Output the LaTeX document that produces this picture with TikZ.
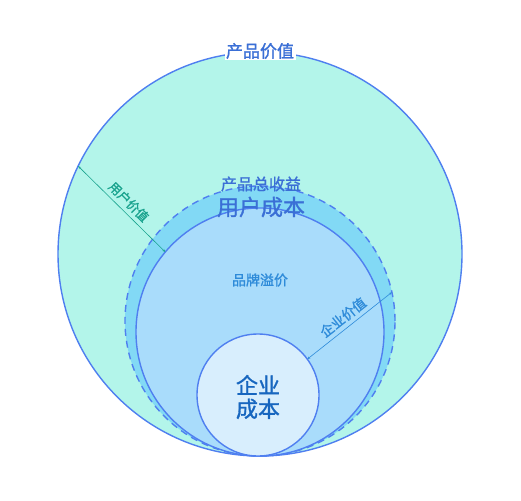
\documentclass[tikz,border=0pt]{standalone}
\usepackage{fontspec}
\setmainfont{Noto Sans CJK SC}[AutoFakeBold=1.3]
\usetikzlibrary{arrows.meta,calc}
\definecolor{mint}{HTML}{B3F5EA}
\definecolor{band}{HTML}{82D9F5}
\definecolor{sky}{HTML}{A9DCFB}
\definecolor{core}{HTML}{D8EEFD}
\definecolor{rim}{HTML}{4F7FF0}
\definecolor{tblue}{HTML}{3A6FD6}
\definecolor{tteal}{HTML}{19A38E}
\definecolor{vblue}{HTML}{2E8BD9}
\definecolor{dblue}{HTML}{1766BF}
\tikzset{ring/.style={draw=rim,line width=1.4pt},
lbl/.style={inner sep=1pt,font=\fontsize{#1}{#1}\selectfont\bfseries}}
\begin{document}
\begin{tikzpicture}[x=1pt,y=-1pt,>={Stealth[length=3pt,width=2.4pt]}]
\useasboundingbox(0,0)rectangle(521,500);
\coordinate(pv)at(260,254);\coordinate(gain)at(260,321);
\coordinate(uc)at(260,332);\coordinate(ec)at(258,395);
% circles
\fill[mint,ring](pv)circle[radius=202pt];
\fill[band](gain)circle[radius=135pt];
\draw[rim,line width=1.4pt,dash pattern=on 7pt off 5pt](gain)circle[radius=135pt];
\fill[sky,ring](uc)circle[radius=124pt];
\fill[core,ring](ec)circle[radius=61pt];
% labels
\node[lbl=17,fill=white,text=tblue,inner sep=1.5pt](pvtext)at(260,51){产品价值};
\node[lbl=16,text=tblue](gaintext)at(261,184){产品总收益};
\node[lbl=22,text=tblue](uctext)at(261,207){用户成本};
\node[lbl=14,text=vblue](brand)at(260,280){品牌溢价};
\node[lbl=22,text=dblue,align=center,font=\fontsize{22}{23.5}\selectfont\bfseries](ectext)at(258,397){企业\\成本};
% dimension lines
\coordinate(uvA)at($(pv)+(154.2:202pt)$);\coordinate(uvB)at($(uc)+(139.8:124pt)$);
\draw[<->,tteal,line width=0.6pt](uvA)--(uvB)node[midway,sloped,above,lbl=12.5,text=tteal,yshift=3pt](uvtext){用户价值};
\coordinate(evA)at($(ec)+(36:61pt)$);\coordinate(evB)at($(gain)+(12.3:135pt)$);
\draw[<->,vblue,line width=0.6pt](evA)--(evB)node[midway,sloped,above,lbl=13.5,text=vblue,yshift=3pt](evtext){企业价值};
\end{tikzpicture}
\end{document}
